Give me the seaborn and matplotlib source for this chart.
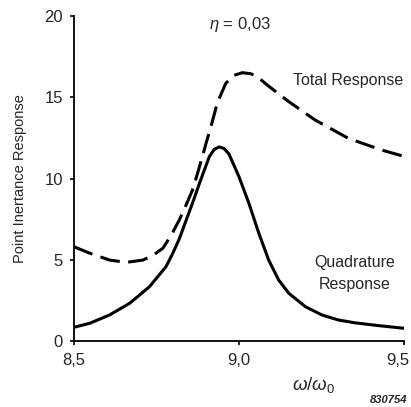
import matplotlib
matplotlib.use("Agg")
import matplotlib.pyplot as plt
import matplotlib.transforms as mtransforms
import seaborn as sns
import pandas as pd

freq_quad = [8.50, 8.548, 8.608, 8.669, 8.729, 8.779, 8.799, 8.819, 8.839, 8.859,
             8.880, 8.910, 8.925, 8.940, 8.955, 8.970, 9.000, 9.030, 9.060, 9.090,
             9.120, 9.151, 9.201, 9.251, 9.301, 9.350, 9.420, 9.50]
quad = [0.87, 1.12, 1.63, 2.35, 3.37, 4.6, 5.4, 6.3, 7.4, 8.49,
        9.7, 11.35, 11.8, 11.95, 11.85, 11.5, 10.12, 8.49, 6.65, 5.0,
        3.78, 2.96, 2.14, 1.63, 1.32, 1.15, 0.98, 0.81]

freq_total = [8.50, 8.548, 8.608, 8.659, 8.709, 8.740, 8.769, 8.794, 8.819, 8.839,
              8.859, 8.874, 8.889, 8.902, 8.915, 8.935, 8.960, 8.985, 9.010, 9.035,
              9.055, 9.085, 9.151, 9.231, 9.331, 9.432, 9.50]
total = [5.82, 5.42, 5.0, 4.86, 5.0, 5.3, 5.72, 6.5, 7.46, 8.35,
         9.3, 10.3, 11.35, 12.3, 13.2, 14.7, 15.86, 16.35, 16.51, 16.45,
         16.27, 15.76, 14.73, 13.6, 12.48, 11.76, 11.37]

x_ticks = [8.5, 9.0, 9.5]
x_tick_labels = ["8,5", "9,0", "9,5"]
y_ticks = [0, 5, 10, 15, 20]

sns.set_style("ticks")
plt.rcParams['font.family'] = ['Liberation Sans', 'DejaVu Sans']
plt.rcParams['mathtext.fontset'] = 'custom'
plt.rcParams['mathtext.rm'] = 'Liberation Sans'
plt.rcParams['mathtext.it'] = 'Liberation Sans:italic'

df_q = pd.DataFrame({"x": freq_quad, "y": quad})
df_t = pd.DataFrame({"x": freq_total, "y": total})

fig = plt.figure(figsize=(4.11, 4.07), dpi=100)
ax = fig.add_axes([0.18, 0.161, 0.803, 0.800])

sns.lineplot(data=df_q, x="x", y="y", ax=ax, color="black", linewidth=2.2,
             sort=False, estimator=None)
sns.lineplot(data=df_t, x="x", y="y", ax=ax, color="black", linewidth=2.2,
             sort=False, estimator=None, dashes=False, linestyle=(0, (6.5, 2.8)))
for line in ax.lines:
    line.set_solid_joinstyle('round')
    line.set_dash_joinstyle('round')

ax.set_xlim(8.5, 9.5)
ax.set_ylim(0, 20)
ax.set_xticks(x_ticks)
ax.set_xticklabels(x_tick_labels, fontsize=12)
ax.set_yticks(y_ticks)
ax.set_yticklabels([str(v) for v in y_ticks], fontsize=12)
ax.tick_params(axis='both', direction='out', length=3, width=1.2, color='black', pad=5)
for s in ['top', 'right']:
    ax.spines[s].set_visible(False)
for s in ['left', 'bottom']:
    ax.spines[s].set_linewidth(1.3)
    ax.spines[s].set_color('black')

# nudge the last x tick label left so it stays inside the figure
last = ax.get_xticklabels()[-1]
last.set_transform(last.get_transform() + mtransforms.ScaledTranslation(-6 / 100, 0, fig.dpi_scale_trans))

ax.set_xlabel("")
ax.set_ylabel("Point Inertance Response", fontsize=10.5)
ax.yaxis.set_label_coords(-0.142, 0.5)

fig.text(314 / 411, 1 - 385 / 407, r"$\omega/\omega_0$", fontsize=13.5, ha='center', va='center')
fig.text(389 / 411, 1 - 400 / 407, "830754", fontsize=8, ha='center', va='center',
         style='italic', weight='bold')
fig.text(240 / 411, 1 - 25 / 407, r"$\eta$ = 0,03", fontsize=12, ha='center', va='center')
fig.text(348 / 411, 1 - 80 / 407, "Total Response", fontsize=11.5, ha='center', va='center')
fig.text(355 / 411, 1 - 263 / 407, "Quadrature", fontsize=11.5, ha='center', va='center')
fig.text(355 / 411, 1 - 285 / 407, "Response", fontsize=11.5, ha='center', va='center')

fig.savefig("out.png", dpi=100)
